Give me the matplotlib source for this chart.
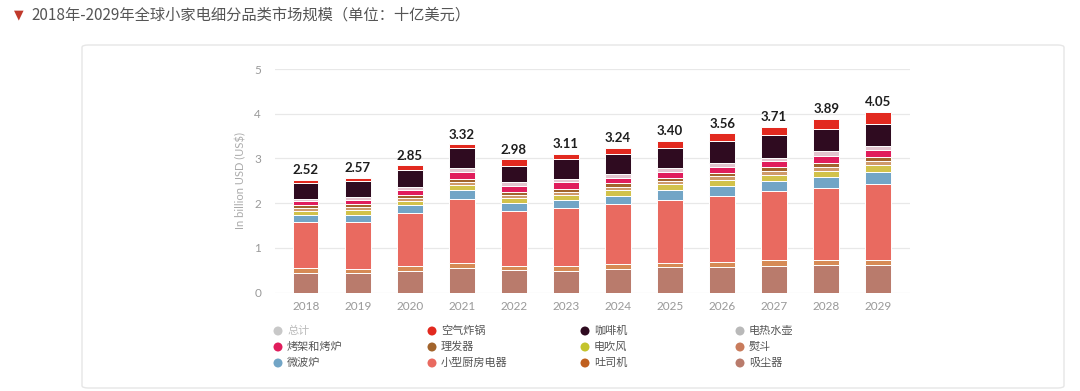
import matplotlib
matplotlib.use('Agg')
import matplotlib.pyplot as plt
import numpy as np
from matplotlib.patches import FancyBboxPatch

plt.rcParams['font.family'] = ['Lato', 'Noto Sans CJK SC', 'DejaVu Sans']

years = ['2018', '2019', '2020', '2021', '2022', '2023', '2024', '2025', '2026', '2027', '2028', '2029']
totals = [2.52, 2.57, 2.85, 3.32, 2.98, 3.11, 3.24, 3.40, 3.56, 3.71, 3.89, 4.05]

# segments, bottom to top
vacuum    = [0.45, 0.44, 0.48, 0.56, 0.50, 0.49, 0.52, 0.58, 0.58, 0.60, 0.62, 0.62]
toaster   = [0.10, 0.10, 0.11, 0.11, 0.10, 0.11, 0.12, 0.09, 0.11, 0.12, 0.11, 0.11]
kitchen   = [1.02, 1.04, 1.19, 1.42, 1.22, 1.29, 1.35, 1.41, 1.47, 1.55, 1.61, 1.71]
microwave = [0.16, 0.16, 0.17, 0.20, 0.18, 0.18, 0.18, 0.21, 0.22, 0.23, 0.24, 0.25]
hairdryer = [0.10, 0.10, 0.10, 0.12, 0.11, 0.11, 0.12, 0.13, 0.14, 0.14, 0.15, 0.16]
iron      = [0.06, 0.07, 0.07, 0.07, 0.07, 0.07, 0.08, 0.07, 0.08, 0.08, 0.09, 0.10]
clipper   = [0.06, 0.07, 0.07, 0.07, 0.06, 0.07, 0.08, 0.07, 0.08, 0.08, 0.08, 0.09]
grill     = [0.09, 0.10, 0.10, 0.15, 0.15, 0.15, 0.12, 0.13, 0.14, 0.15, 0.16, 0.14]
kettle    = [0.05, 0.06, 0.07, 0.08, 0.08, 0.07, 0.09, 0.10, 0.07, 0.07, 0.10, 0.09]
coffee    = [0.36, 0.36, 0.39, 0.45, 0.36, 0.44, 0.43, 0.45, 0.50, 0.50, 0.50, 0.51]
airfryer  = [0.07, 0.07, 0.10, 0.09, 0.15, 0.13, 0.15, 0.16, 0.17, 0.19, 0.23, 0.27]

stack = [
    (vacuum, '#b97b6c'),
    (toaster, '#d68a55'),
    (kitchen, '#e96a60'),
    (microwave, '#72a5c6'),
    (hairdryer, '#d2c24a'),
    (iron, '#cf9a6a'),
    (clipper, '#a2642c'),
    (grill, '#e01d5c'),
    (kettle, '#e2c4ce'),
    (coffee, '#2f0b20'),
    (airfryer, '#e2291f'),
]

legend_rows = [
    [('总计', '#c8c8c8'), ('空气炸锅', '#e2291f'), ('咖啡机', '#2f0b20'), ('电热水壶', '#b9b9b9')],
    [('烤架和烤炉', '#e01d5c'), ('理发器', '#a2642c'), ('电吹风', '#c4c42c'), ('熨斗', '#c97c5c')],
    [('微波炉', '#72a5c6'), ('小型厨房电器', '#e96a60'), ('吐司机', '#c0601f'), ('吸尘器', '#b97b6c')],
]

fig = plt.figure(figsize=(10.8, 3.91), dpi=100)

# card background (behind everything)
card = FancyBboxPatch((82 / 1080, 3 / 391), 982 / 1080, 343 / 391,
                      boxstyle='round,pad=0,rounding_size=0.006',
                      transform=fig.transFigure, facecolor='white',
                      edgecolor='#e6e6e6', linewidth=1.0, zorder=-5)
fig.patches.append(card)

# title
fig.text(14 / 1080, 1 - 15 / 391, '▼', color='#c0392b', fontsize=9, va='center',
         family=['DejaVu Sans'])
fig.text(31 / 1080, 1 - 15 / 391, '2018年-2029年全球小家电细分品类市场规模（单位：十亿美元）',
         color='#555555', fontsize=11, va='center', family=['Noto Sans CJK SC', 'DejaVu Sans'])

ax = fig.add_axes([275 / 1080, 1 - 292.7 / 391, 635 / 1080, 223.7 / 391])
ax.set_facecolor('none')
x = np.arange(len(years))
bottom = np.zeros(len(years))
for vals, col in stack:
    ax.bar(x, vals, width=0.49, bottom=bottom, color=col, edgecolor='white', linewidth=0.7, zorder=3)
    bottom += np.array(vals)

for i, t in enumerate(totals):
    ax.text(x[i], bottom[i] + 0.08, '%.2f' % t, ha='center', va='bottom',
            fontsize=9.5, fontweight='bold', color='#1e1e1e')

ax.set_xlim(-0.59, 11.61)
ax.set_ylim(0, 5)
ax.set_yticks([0, 1, 2, 3, 4, 5])
ax.set_xticks(x)
ax.set_xticklabels(years)
ax.grid(axis='y', color='#e8e8e8', linewidth=0.9, zorder=0)
for s in ax.spines.values():
    s.set_visible(False)
ax.tick_params(axis='both', length=0, labelsize=8.5, colors='#999999')
ax.tick_params(axis='x', pad=6)
ax.tick_params(axis='y', pad=10)
ax.set_ylabel('In billion USD (US$)', fontsize=8, color='#aaaaaa', labelpad=6)

# legend
leg_ax = fig.add_axes([0, 0, 1, 1], facecolor='none')
leg_ax.set_xlim(0, 1080)
leg_ax.set_ylim(391, 0)
leg_ax.axis('off')
col_x = [278, 432, 585, 740]
row_y = [331, 347, 363]
for r, row in enumerate(legend_rows):
    for c, (name, col) in enumerate(row):
        leg_ax.scatter(col_x[c], row_y[r], s=42, color=col, edgecolors='none')
        tcol = '#bbbbbb' if name == '总计' else '#555555'
        leg_ax.text(col_x[c] + 9, row_y[r], name, va='center', ha='left', fontsize=8,
                    color=tcol, family=['Noto Sans CJK SC', 'DejaVu Sans'])

fig.savefig('out.png', dpi=100, facecolor='white')
